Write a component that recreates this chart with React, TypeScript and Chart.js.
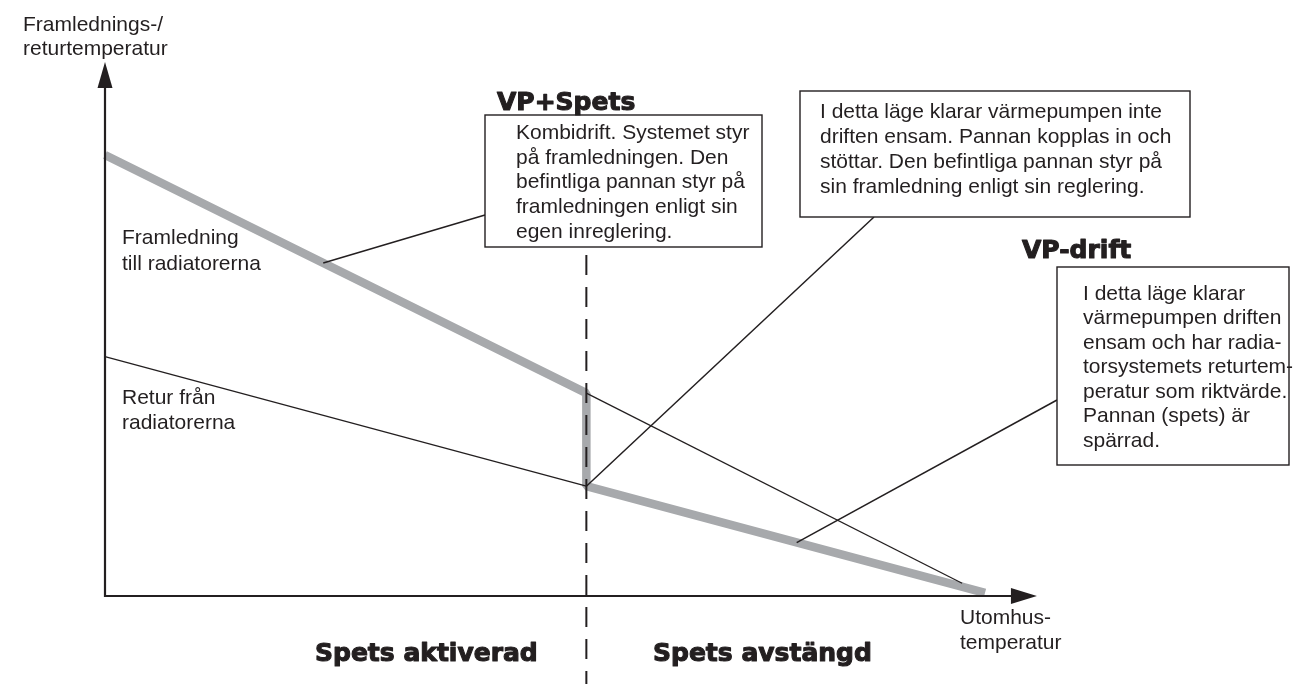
import { useEffect, useRef } from "react";
import { Chart, registerables } from "chart.js";

Chart.register(...registerables);

// Conceptual data space: x = outdoor temperature (0..100 along axis), y = water temperature (0..100)
const breakX = 54.7;
const supplyBoiler = [
  { x: 0, y: 100 },
  { x: breakX, y: 46 },
];
const supplyHeatPump = [
  { x: breakX, y: 46 },
  { x: 97.4, y: 2.9 },
];
const returnBoiler = [
  { x: 0, y: 54.3 },
  { x: breakX, y: 24.9 },
];
const controlCurve = [
  ...supplyBoiler,
  { x: breakX, y: 24.9 },
  { x: 100, y: 0.7 },
];
const axisXTip = 105.9;
const axisYTip = 121.1;

const yAxisLabel = ["Framlednings-/", "returtemperatur"];
const xAxisLabel = ["Utomhus-", "temperatur"];
const supplyLabel = ["Framledning", "till radiatorerna"];
const returnLabel = ["Retur från", "radiatorerna"];
const box1Lines = [
  "Kombidrift. Systemet styr",
  "på framledningen. Den",
  "befintliga pannan styr på",
  "framledningen enligt sin",
  "egen inreglering.",
];
const box2Lines = [
  "I detta läge klarar värmepumpen inte",
  "driften ensam. Pannan kopplas in och",
  "stöttar. Den befintliga pannan styr på",
  "sin framledning enligt sin reglering.",
];
const box3Lines = [
  "I detta läge klarar",
  "värmepumpen driften",
  "ensam och har radia-",
  "torsystemets returtem-",
  "peratur som riktvärde.",
  "Pannan (spets) är",
  "spärrad.",
];
const headerCombined = "VP+Spets";
const headerHeatPump = "VP-drift";
const zoneLeft = "Spets aktiverad";
const zoneRight = "Spets avstängd";

// Leader anchors in data space
const anchor1 = { x: 24.8, y: 75.5 };
const anchor2 = { x: breakX, y: 24.9 };
const anchor3 = { x: 78.6, y: 12.1 };

const INK = "#231f20";
const GREY = "#a7a9ac";
const BODY_FONT = "21px 'Liberation Sans', Arial, sans-serif";
const HEAD_FONT = "bold 25px 'DejaVu Sans', sans-serif";

const diagramPlugin = {
  id: "diagram",
  afterDatasetsDraw(chart: any) {
    const { ctx } = chart;
    const xs = chart.scales.x;
    const ys = chart.scales.y;
    const px = (v: number) => xs.getPixelForValue(v);
    const py = (v: number) => ys.getPixelForValue(v);
    ctx.save();

    // dashed divider
    const bx = px(breakX);
    ctx.strokeStyle = INK;
    ctx.lineWidth = 2;
    ctx.setLineDash([20, 12]);
    ctx.beginPath();
    ctx.moveTo(bx, 255);
    ctx.lineTo(bx, 684);
    ctx.stroke();
    ctx.setLineDash([]);

    // axes
    const ox = px(0);
    const oy = py(0);
    const tipY = py(axisYTip);
    const tipX = px(axisXTip);
    ctx.lineWidth = 2.2;
    ctx.lineJoin = "miter";
    ctx.beginPath();
    ctx.moveTo(ox, tipY + 24);
    ctx.lineTo(ox, oy);
    ctx.lineTo(tipX - 24, oy);
    ctx.stroke();
    ctx.fillStyle = INK;
    ctx.beginPath();
    ctx.moveTo(ox, tipY);
    ctx.lineTo(ox - 7.5, tipY + 26);
    ctx.lineTo(ox + 7.5, tipY + 26);
    ctx.closePath();
    ctx.fill();
    ctx.beginPath();
    ctx.moveTo(tipX, oy);
    ctx.lineTo(tipX - 26, oy - 8);
    ctx.lineTo(tipX - 26, oy + 8);
    ctx.closePath();
    ctx.fill();

    // leader lines
    ctx.lineWidth = 1.5;
    const leader = (a: { x: number; y: number }, tx: number, ty: number) => {
      ctx.beginPath();
      ctx.moveTo(px(a.x), py(a.y));
      ctx.lineTo(tx, ty);
      ctx.stroke();
    };
    leader(anchor1, 485, 215);
    leader(anchor2, 874, 217);
    leader(anchor3, 1057, 400);

    // text helpers
    ctx.textBaseline = "middle";
    ctx.textAlign = "left";
    const lines = (arr: string[], x: number, y0: number, step: number) => {
      ctx.font = BODY_FONT;
      ctx.fillStyle = INK;
      arr.forEach((t, i) => ctx.fillText(t, x, y0 + i * step));
    };
    const box = (x0: number, y0: number, x1: number, y1: number) => {
      ctx.fillStyle = "#ffffff";
      ctx.fillRect(x0, y0, x1 - x0, y1 - y0);
      ctx.strokeStyle = INK;
      ctx.lineWidth = 1.4;
      ctx.strokeRect(x0, y0, x1 - x0, y1 - y0);
    };

    box(485, 115, 762, 247);
    lines(box1Lines, 516, 133, 24.8);
    box(800, 91, 1190, 217);
    lines(box2Lines, 820, 112, 25);
    box(1057, 267, 1289, 465);
    lines(box3Lines, 1083, 294, 24.5);

    lines(yAxisLabel, 23, 25, 24.5);
    lines(supplyLabel, 122, 238, 26.5);
    lines(returnLabel, 122, 398, 25);
    lines(xAxisLabel, 960, 618, 25);

    // headers
    ctx.textBaseline = "alphabetic";
    const head = (t: string, x: number, y: number) => {
      ctx.font = HEAD_FONT;
      ctx.fillStyle = INK;
      ctx.strokeStyle = INK;
      ctx.lineWidth = 1.1;
      ctx.lineJoin = "round";
      ctx.fillText(t, x, y);
      ctx.strokeText(t, x, y);
    };
    head(headerCombined, 497, 110);
    head(headerHeatPump, 1022, 258);
    head(zoneLeft, 315, 661);
    head(zoneRight, 653, 661);

    ctx.restore();
  },
};

export default function App() {
  const ref = useRef<HTMLCanvasElement>(null);
  useEffect(() => {
    document.body.style.margin = "0";
    const chart = new Chart(ref.current as HTMLCanvasElement, {
      type: "line",
      data: {
        datasets: [
          {
            data: supplyHeatPump,
            borderColor: INK,
            borderWidth: 1.3,
            pointRadius: 0,
            clip: false,
          } as any,
          {
            data: returnBoiler,
            borderColor: INK,
            borderWidth: 1.3,
            pointRadius: 0,
            clip: false,
          } as any,
          {
            data: controlCurve,
            borderColor: GREY,
            borderWidth: 8.5,
            borderJoinStyle: "bevel",
            borderCapStyle: "butt",
            pointRadius: 0,
            clip: false,
          } as any,
        ],
      },
      options: {
        responsive: false,
        animation: false,
        devicePixelRatio: 1,
        events: [],
        layout: { padding: { left: 105, right: 309, top: 155, bottom: 88 } },
        scales: {
          x: { type: "linear", min: 0, max: 100, display: false },
          y: { type: "linear", min: 0, max: 100, display: false },
        },
        plugins: { legend: { display: false }, tooltip: { enabled: false } },
      },
      plugins: [diagramPlugin],
    });
    return () => chart.destroy();
  }, []);
  return <canvas ref={ref} width={1294} height={684} style={{ display: "block" }} />;
}
